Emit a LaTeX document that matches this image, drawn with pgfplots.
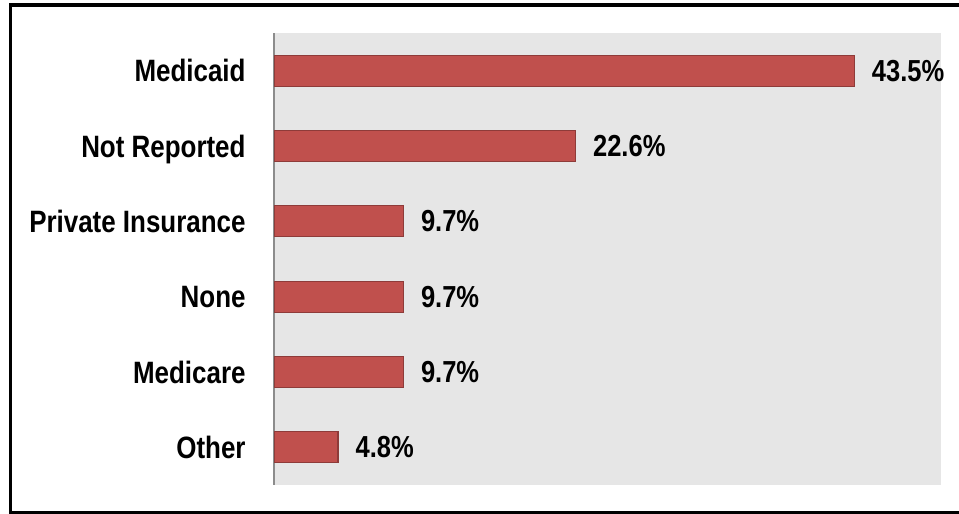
\documentclass[border=0pt]{standalone}
\usepackage{fontspec}
\setmainfont{Liberation Sans}[FakeStretch=0.84]
\usepackage{pgfplots}
\pgfplotsset{compat=1.18}
\definecolor{barred}{HTML}{C0504D}
\definecolor{baredge}{HTML}{8E3B39}
\definecolor{plotbg}{HTML}{E6E6E6}
\definecolor{axisgray}{HTML}{8C8C8C}
\begin{document}
\begin{tikzpicture}[x=1bp,y=1bp]
\useasboundingbox (0,0) rectangle (959,514);
\begin{scope}
\clip (0,0) rectangle (959,514);
\draw[line width=3.5bp] (10.5,1.5) rectangle (975,509);
\end{scope}
\begin{axis}[at={(274bp,29bp)}, anchor=south west, scale only axis,
  width=667bp, height=452bp,
  xbar, bar width=31bp,
  xmin=0, xmax=50, ymin=-0.5, ymax=5.5,
  axis background/.style={fill=plotbg},
  axis lines*=left,
  x axis line style={draw=none},
  y axis line style={draw=axisgray, line width=1.5bp},
  xtick=\empty,
  ytick={0,1,2,3,4,5},
  yticklabels={Other, Medicare, None, Private Insurance, Not Reported, Medicaid},
  ytick style={draw=none},
  yticklabel style={font=\fontsize{31}{37}\selectfont\bfseries, inner sep=0pt, text depth=0pt, xshift=-24bp, text=black},
  point meta=explicit symbolic,
  nodes near coords,
  nodes near coords style={font=\fontsize{30.5}{36}\selectfont\bfseries, anchor=west, inner sep=0pt, text depth=0pt, xshift=17bp, text=black},
]
\addplot[fill=barred, draw=baredge, line width=1.2bp] coordinates {
  (4.8,0) [4.8\%]
  (9.7,1) [9.7\%]
  (9.7,2) [9.7\%]
  (9.7,3) [9.7\%]
  (22.6,4) [22.6\%]
  (43.5,5) [43.5\%]
};
\end{axis}
\end{tikzpicture}
\end{document}
